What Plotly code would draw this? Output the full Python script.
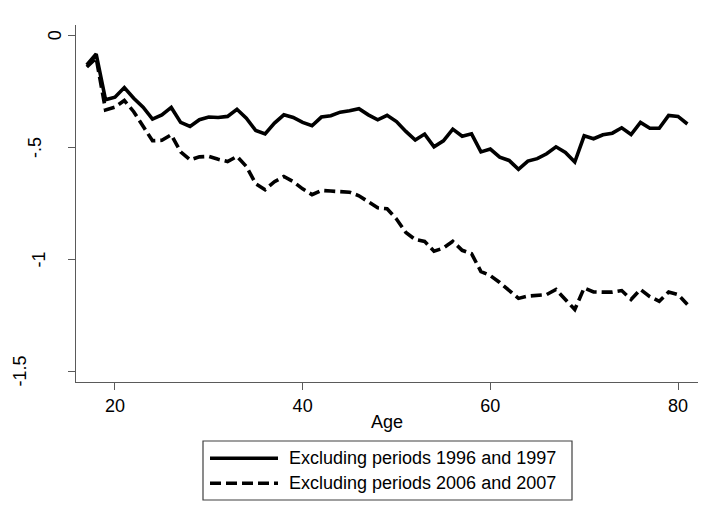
import plotly.graph_objects as go

# ages 17..81
age = list(range(17, 82))

excl_1996_1997 = [
    -0.131, -0.082, -0.287, -0.275, -0.232, -0.280, -0.320, -0.373, -0.354, -0.321,
    -0.388, -0.406, -0.376, -0.364, -0.366, -0.361, -0.329, -0.369, -0.424, -0.439,
    -0.391, -0.354, -0.366, -0.388, -0.403, -0.364, -0.358, -0.342, -0.336, -0.327,
    -0.354, -0.376, -0.356, -0.384, -0.428, -0.467, -0.440, -0.497, -0.470, -0.418,
    -0.450, -0.439, -0.520, -0.507, -0.543, -0.558, -0.598, -0.561, -0.550, -0.528,
    -0.497, -0.522, -0.565, -0.448, -0.461, -0.443, -0.436, -0.412, -0.442, -0.388,
    -0.414, -0.414, -0.357, -0.361, -0.395,
]

excl_2006_2007 = [
    -0.140, -0.100, -0.332, -0.320, -0.290, -0.340, -0.405, -0.470, -0.468, -0.443,
    -0.520, -0.555, -0.542, -0.540, -0.553, -0.563, -0.540, -0.585, -0.662, -0.689,
    -0.653, -0.630, -0.653, -0.685, -0.711, -0.692, -0.695, -0.698, -0.700, -0.716,
    -0.745, -0.770, -0.774, -0.820, -0.880, -0.912, -0.920, -0.964, -0.950, -0.920,
    -0.960, -0.975, -1.055, -1.073, -1.104, -1.140, -1.175, -1.165, -1.162, -1.158,
    -1.135, -1.180, -1.225, -1.128, -1.146, -1.147, -1.147, -1.140, -1.180, -1.135,
    -1.167, -1.188, -1.146, -1.158, -1.202,
]

series_names = ["Excluding periods 1996 and 1997", "Excluding periods 2006 and 2007"]
x_ticks = [20, 40, 60, 80]
y_ticks = [0, -0.5, -1, -1.5]
y_tick_text = ["0", "-.5", "-1", "-1.5"]

FONT = "Liberation Sans, Arial, sans-serif"
PAGE = 8                      # default body margin of the html page
W, H = 710 - PAGE, 520 - PAGE
L, R, T, B = 76 - PAGE, 12, 25 - PAGE, 138
AXIS = "#5a5a5a"
dashes = ["solid", "11px,5px"]


def px(x, y):
    # window pixel position -> paper coords
    x, y = x - PAGE, y - PAGE
    return (x - L) / (W - L - R), (H - B - y) / (H - T - B)


fig = go.Figure()
for vals, name, dash in zip([excl_1996_1997, excl_2006_2007], series_names, dashes):
    fig.add_trace(go.Scatter(x=age, y=vals, mode="lines", name=name,
                             line=dict(color="black", width=3.6, dash=dash)))

fig.update_layout(
    width=W, height=H, autosize=False,
    margin=dict(l=L, r=R, t=T, b=B),
    paper_bgcolor="white", plot_bgcolor="white",
    showlegend=False,
    font=dict(family=FONT, size=18, color="black"),
)
fig.update_xaxes(
    range=[15.85, 82.13], tickvals=x_ticks, ticks="outside", ticklen=7,
    tickcolor=AXIS, tickwidth=1.2, showline=True, linecolor=AXIS, linewidth=1.3,
    showgrid=False, zeroline=False, ticklabelstandoff=0,
    title=dict(text="Age", standoff=0, font=dict(size=18)),
)
fig.update_yaxes(
    range=[-1.549, 0.0478], tickvals=y_ticks, ticks="outside", ticklen=7,
    tickcolor=AXIS, tickwidth=1.2, showline=True, linecolor=AXIS, linewidth=1.3,
    showgrid=False, zeroline=False, showticklabels=False,
)

# rotated y labels (Stata style)
label_shift = [-21.5, -40.5, -36.8, -55.5]
for v, t, s in zip(y_ticks, y_tick_text, label_shift):
    fig.add_annotation(x=0, y=v, xref="paper", yref="y", text=t, showarrow=False,
                       textangle=-90, xanchor="center", yanchor="middle", xshift=s,
                       font=dict(size=18))

# faint line at the top
x0, y0 = px(8, 5)
x1, _ = px(710, 5)
fig.add_shape(type="line", xref="paper", yref="paper", x0=x0, x1=x1, y0=y0, y1=y0,
              line=dict(color="#e4ebeb", width=1.5))

# legend box drawn by hand
bx0, by0 = px(203, 441)
bx1, by1 = px(572, 500)
fig.add_shape(type="rect", xref="paper", yref="paper", x0=bx0, x1=bx1, y0=by0, y1=by1,
              line=dict(color="#404040", width=1.2), fillcolor="white")
for i, (name, dash) in enumerate(zip(series_names, dashes)):
    row_y = 458.3 + 25 * i
    lx0, ly = px(210, row_y)
    lx1, _ = px(278, row_y)
    fig.add_shape(type="line", xref="paper", yref="paper", x0=lx0, x1=lx1, y0=ly, y1=ly,
                  line=dict(color="black", width=3.6, dash=dash))
    tx, ty = px(287, row_y)
    fig.add_annotation(x=tx, y=ty, xref="paper", yref="paper", text=name, showarrow=False,
                       xanchor="left", yanchor="middle", font=dict(size=18))

fig.write_html("out.html")
